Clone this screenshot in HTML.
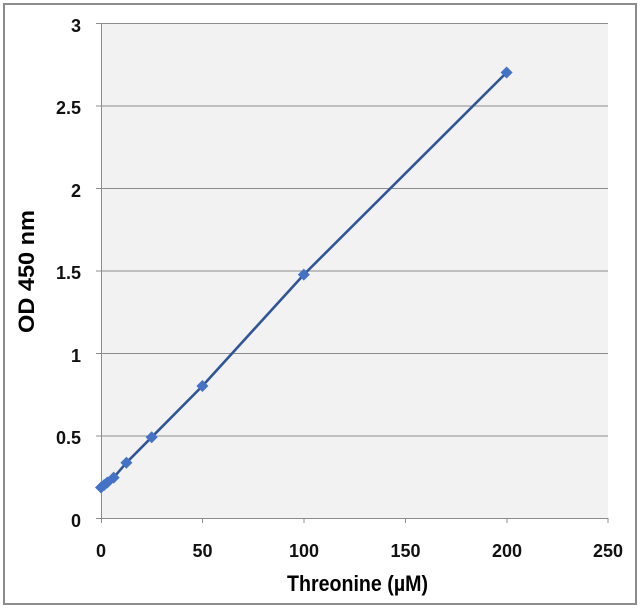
<!DOCTYPE html><html><head><style>body{margin:0;background:#fff}svg{display:block}</style></head><body>
<svg width="642" height="608" xmlns="http://www.w3.org/2000/svg" font-family="Liberation Sans, sans-serif">
<rect x="4" y="4" width="632" height="600" fill="#fff" stroke="#8c8c8c" stroke-width="2"/>
<rect x="101" y="23" width="507" height="495" fill="#f2f2f2"/>
<g stroke="#8c8c8c" stroke-width="1">
<line x1="101" y1="23.5" x2="608" y2="23.5"/><line x1="101" y1="106" x2="608" y2="106"/><line x1="101" y1="188.5" x2="608" y2="188.5"/><line x1="101" y1="271" x2="608" y2="271"/><line x1="101" y1="353.5" x2="608" y2="353.5"/><line x1="101" y1="436" x2="608" y2="436"/>
<line x1="101" y1="518.5" x2="608" y2="518.5"/><line x1="101.5" y1="23" x2="101.5" y2="523"/>
<line x1="96" y1="23.5" x2="101" y2="23.5"/><line x1="96" y1="106" x2="101" y2="106"/><line x1="96" y1="188.5" x2="101" y2="188.5"/><line x1="96" y1="271" x2="101" y2="271"/><line x1="96" y1="353.5" x2="101" y2="353.5"/><line x1="96" y1="436" x2="101" y2="436"/><line x1="96" y1="518.5" x2="101" y2="518.5"/>
<line x1="202.5" y1="518" x2="202.5" y2="523"/><line x1="304" y1="518" x2="304" y2="523"/><line x1="405.5" y1="518" x2="405.5" y2="523"/><line x1="507" y1="518" x2="507" y2="523"/><line x1="608" y1="518" x2="608" y2="523"/>
</g>
<g font-size="18" font-weight="bold" fill="#111" text-anchor="end">
<text x="81" y="32">3</text><text x="81" y="114">2.5</text><text x="81" y="197">2</text><text x="81" y="279">1.5</text><text x="81" y="362">1</text><text x="81" y="444">0.5</text><text x="81" y="527">0</text>
</g>
<g font-size="18" font-weight="bold" fill="#111" text-anchor="middle">
<text x="101" y="557">0</text><text x="202.5" y="557">50</text><text x="304" y="557">100</text><text x="405.5" y="557">150</text><text x="507" y="557">200</text><text x="608" y="557">250</text>
</g>
<text x="287" y="591" font-size="22" font-weight="bold" textLength="141" lengthAdjust="spacingAndGlyphs">Threonine (µM)</text>
<text transform="translate(34,333) rotate(-90)" font-size="22" font-weight="bold" textLength="123" lengthAdjust="spacingAndGlyphs">OD 450 nm</text>
<polyline fill="none" stroke="#2f5597" stroke-width="2.6" points="101,487.5 104.2,485 107.3,482.5 113.7,477.6 126.4,462.7 151.7,437.2 202.4,386 303.8,274.6 506.6,72.5"/>
<g fill="#4472c4">
<path d="M101,481.5l6,6l-6,6l-6,-6z"/><path d="M104.2,479l6,6l-6,6l-6,-6z"/><path d="M107.3,476.5l6,6l-6,6l-6,-6z"/><path d="M113.7,471.6l6,6l-6,6l-6,-6z"/><path d="M126.4,456.7l6,6l-6,6l-6,-6z"/><path d="M151.7,431.2l6,6l-6,6l-6,-6z"/><path d="M202.4,380l6,6l-6,6l-6,-6z"/><path d="M303.8,268.6l6,6l-6,6l-6,-6z"/><path d="M506.6,66.5l6,6l-6,6l-6,-6z"/>
</g>
</svg></body></html>
